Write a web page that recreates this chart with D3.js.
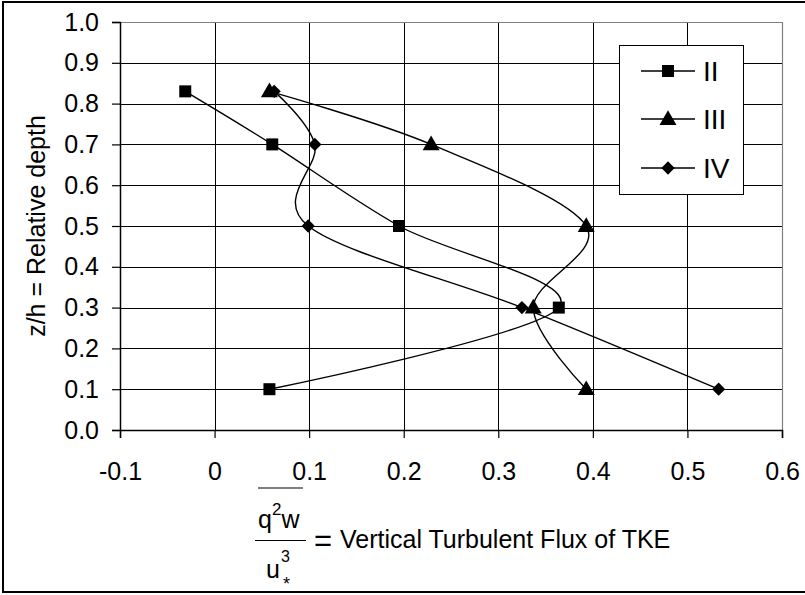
<!DOCTYPE html>
<html><head><meta charset="utf-8">
<script src="https://cdn.jsdelivr.net/npm/d3@7"></script>
<style>body{margin:0;background:#fff}svg{display:block;font-family:"Liberation Sans",Arial,sans-serif}</style>
</head><body>
<svg id="c" width="805" height="595"></svg>
<script>
const depths = [0.83, 0.70, 0.50, 0.30, 0.10];
const seriesNames = ["II", "III", "IV"];
const fluxII  = [-0.031, 0.061, 0.195, 0.364, 0.058];
const fluxIII = [0.058, 0.229, 0.393, 0.337, 0.393];
const fluxIV  = [0.063, 0.106, 0.099, 0.325, 0.533];
const xTicks = [-0.1, 0, 0.1, 0.2, 0.3, 0.4, 0.5, 0.6];
const yTicks = [0, 0.1, 0.2, 0.3, 0.4, 0.5, 0.6, 0.7, 0.8, 0.9, 1.0];

const svg = d3.select("#c");
const L = 120, R = 782, T = 22, B = 430;
const x = d3.scaleLinear().domain([-0.1, 0.6]).range([L, R]);
const y = d3.scaleLinear().domain([0, 1]).range([B, T]);
const FS = 25;

// outer frame
svg.append("rect").attr("x", 3).attr("y", 2).attr("width", 812).attr("height", 590)
  .attr("fill", "#fff").attr("stroke", "#000").attr("stroke-width", 2);

// gridlines
const g = svg.append("g");
g.selectAll(".hg").data(yTicks.slice(1, -1)).join("line")
  .attr("x1", L).attr("x2", R).attr("y1", d => Math.round(y(d)) + 0.5).attr("y2", d => Math.round(y(d)) + 0.5)
  .attr("stroke", "#000").attr("stroke-width", 1);
g.selectAll(".vg").data(xTicks.slice(1, -1)).join("line")
  .attr("y1", T).attr("y2", B).attr("x1", d => Math.round(x(d)) + 0.5).attr("x2", d => Math.round(x(d)) + 0.5)
  .attr("stroke", "#000").attr("stroke-width", 1);
// plot border (top/right) gray
svg.append("path").attr("d", `M${L},${T + 0.5}H${R + 0.5}V${B}`).attr("fill", "none")
  .attr("stroke", "#808080").attr("stroke-width", 1.2);

// axes
const fmtX = d => d === 0 ? "0" : d3.format(".1f")(d).replace("−", "-");
const fmtY = d => d3.format(".1f")(d);
const xAxis = d3.axisBottom(x).tickValues(xTicks).tickSize(8).tickPadding(24).tickFormat(fmtX);
const gx = svg.append("g").attr("transform", `translate(0,${B})`).call(xAxis);
const yAxis = d3.axisLeft(y).tickValues(yTicks).tickSize(8).tickPadding(13).tickFormat(fmtY);
const gy = svg.append("g").attr("transform", `translate(${L},0)`).call(yAxis);
[gx, gy].forEach(a => {
  a.select(".domain").attr("stroke", "#000").attr("stroke-width", 1.5);
  a.selectAll(".tick line").attr("stroke", "#000").attr("stroke-width", 1.2);
  a.selectAll("text").attr("font-size", FS).attr("fill", "#000").attr("font-family", "Liberation Sans, Arial, sans-serif");
});

// series
const data = [fluxII, fluxIII, fluxIV].map((vals, i) => ({
  name: seriesNames[i], pts: vals.map((v, j) => [v, depths[j]])
}));
const symbols = [d3.symbolSquare, d3.symbolTriangle, d3.symbolSquare];
const sizes = [144, 125, 88];
const rot = [0, 0, 45];
const dy = [0, 1, 0];
const line = d3.line().x(d => x(d[0])).y(d => y(d[1])).curve(d3.curveCatmullRom.alpha(0));
data.forEach((s, i) => {
  svg.append("path").attr("d", line(s.pts)).attr("fill", "none").attr("stroke", "#000").attr("stroke-width", 1.4);
});
data.forEach((s, i) => {
  svg.selectAll(null).data(s.pts).join("path")
    .attr("d", d3.symbol(symbols[i], sizes[i]))
    .attr("transform", d => `translate(${x(d[0])},${y(d[1]) + dy[i]}) rotate(${rot[i]})`)
    .attr("fill", "#000");
});

// legend
const lg = svg.append("g");
lg.append("rect").attr("x", 619.5).attr("y", 45.5).attr("width", 124).attr("height", 149)
  .attr("fill", "#fff").attr("stroke", "#000").attr("stroke-width", 1);
const ly = [71, 119, 168];
data.forEach((s, i) => {
  lg.append("line").attr("x1", 641).attr("x2", 695).attr("y1", ly[i]).attr("y2", ly[i])
    .attr("stroke", "#000").attr("stroke-width", 1.4);
  lg.append("path").attr("d", d3.symbol(symbols[i], sizes[i]))
    .attr("transform", `translate(668,${ly[i] + dy[i]}) rotate(${rot[i]})`).attr("fill", "#000");
  lg.append("text").attr("x", 703).attr("y", ly[i]).attr("dy", "0.36em").attr("font-size", 28).text(s.name);
});

// y axis title
svg.append("text").attr("transform", `translate(45,${(T + B) / 2}) rotate(-90)`)
  .attr("text-anchor", "middle").attr("font-size", FS).text("z/h = Relative depth");

// x axis title: fraction
const xt = svg.append("g");
xt.append("line").attr("x1", 258).attr("x2", 303).attr("y1", 488).attr("y2", 488).attr("stroke", "#000").attr("stroke-width", 1.2);
const num = xt.append("text").attr("x", 258).attr("y", 528).attr("font-size", FS);
num.append("tspan").text("q");
num.append("tspan").attr("dy", -13).attr("font-size", 17).text("2");
num.append("tspan").attr("dy", 13).text("w");
xt.append("line").attr("x1", 255).attr("x2", 306).attr("y1", 540.5).attr("y2", 540.5).attr("stroke", "#000").attr("stroke-width", 1.2);
xt.append("text").attr("x", 266).attr("y", 578).attr("font-size", FS).text("u");
xt.append("text").attr("x", 281).attr("y", 562).attr("font-size", 16).text("3");
xt.append("text").attr("x", 283).attr("y", 590).attr("font-size", 18).text("*");
xt.append("text").attr("x", 314).attr("y", 551).attr("font-size", 31).text("=");
xt.append("text").attr("x", 340).attr("y", 548).attr("font-size", FS).text("Vertical Turbulent Flux of TKE");
</script>
</body></html>
